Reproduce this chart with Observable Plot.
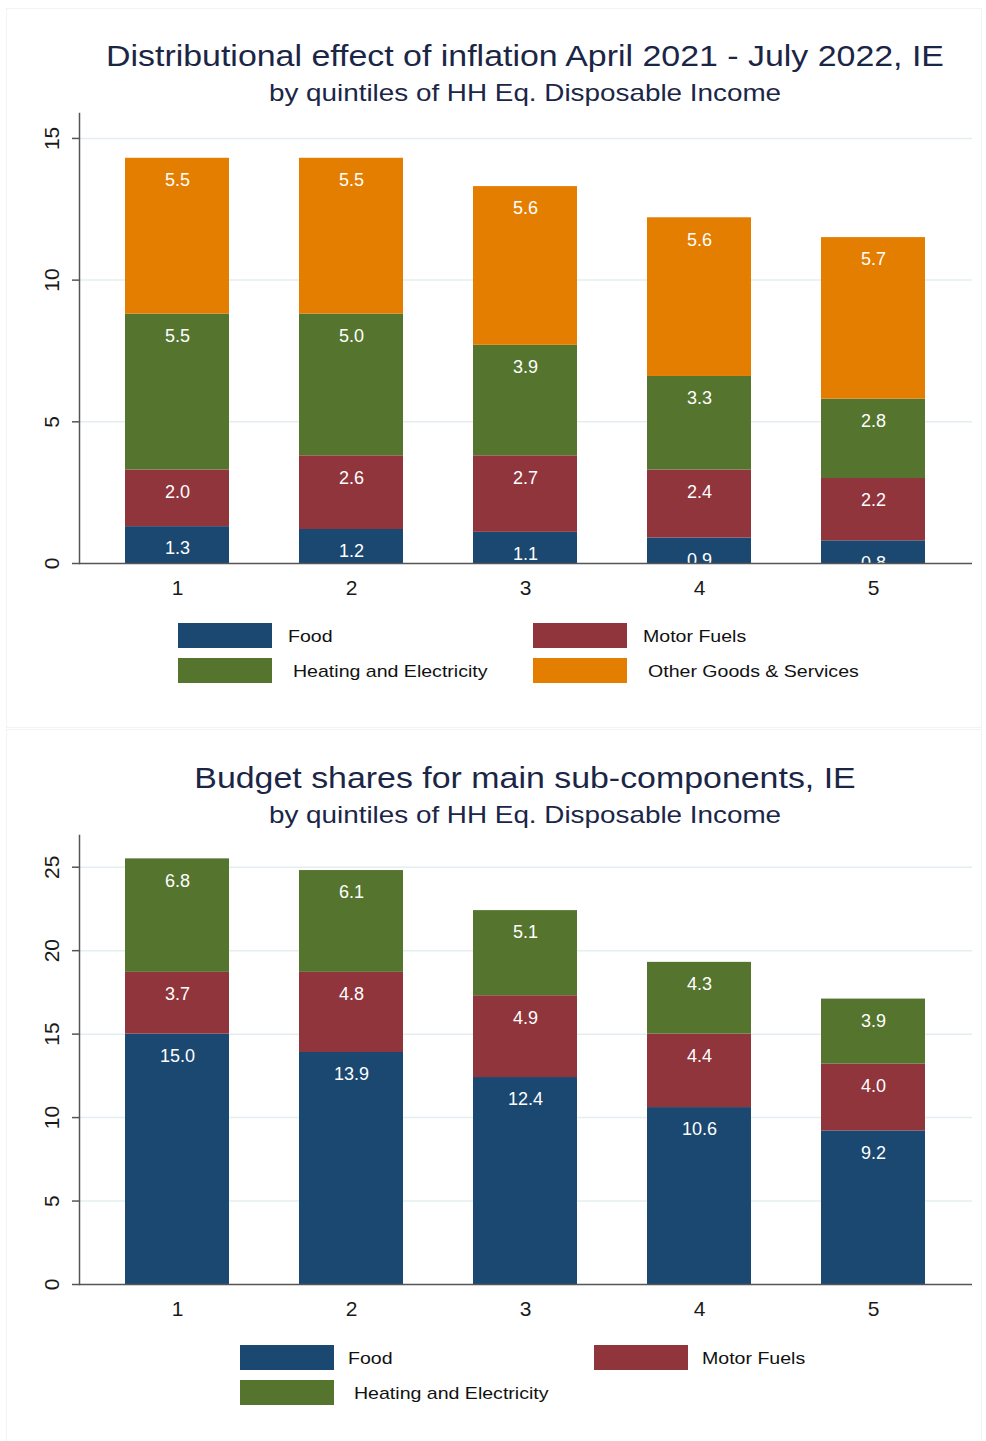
<!DOCTYPE html>
<html>
<head>
<meta charset="utf-8">
<script src="https://cdn.jsdelivr.net/npm/d3@7"></script>
<script src="https://cdn.jsdelivr.net/npm/@observablehq/plot@0.6"></script>
<style>
  html, body { margin: 0; padding: 0; background: #fff; }
  #page { position: relative; width: 986px; height: 1441px; background: #fff; overflow: hidden;
          font-family: "Liberation Sans", Arial, sans-serif; }
  .panel { position: absolute; border: 1px solid #f2f4f4; background: #fff; }
  .title, .sub { position: absolute; white-space: nowrap; line-height: 1; color: #1b2647;
                 transform: translate(-50%, -50%) scaleX(1.13); }
  .title { font-size: 30px; }
  .sub { font-size: 24px; transform: translate(-50%, -50%) scaleX(1.16); }
  .sw { position: absolute; width: 94px; height: 25px; }
  .lt { position: absolute; white-space: nowrap; font-size: 17px; line-height: 1; color: #111;
        transform-origin: left center; transform: translateY(-50%) scaleX(1.15); }
  .chart { position: absolute; left: 0; }
</style>
</head>
<body>
<div id="page"></div>
<script>
// ---------- data ----------
const quintiles = ["1", "2", "3", "4", "5"];

const effectSeries = ["Food", "Motor Fuels", "Heating and Electricity", "Other Goods & Services"];
const effectFood    = [1.3, 1.2, 1.1, 0.9, 0.8];
const effectMotor   = [2.0, 2.6, 2.7, 2.4, 2.2];
const effectHeating = [5.5, 5.0, 3.9, 3.3, 2.8];
const effectOther   = [5.5, 5.5, 5.6, 5.6, 5.7];

const shareSeries  = ["Food", "Motor Fuels", "Heating and Electricity"];
const shareFood    = [15.0, 13.9, 12.4, 10.6, 9.2];
const shareMotor   = [3.7, 4.8, 4.9, 4.4, 4.0];
const shareHeating = [6.8, 6.1, 5.1, 4.3, 3.9];

const seriesColors = ["#1b4870", "#90353b", "#55752f", "#e37e00"];

const effectTicks = [0, 5, 10, 15];
const shareTicks  = [0, 5, 10, 15, 20, 25];

const title1 = "Distributional effect of inflation April 2021 - July 2022, IE";
const title2 = "Budget shares for main sub-components, IE";
const subtitle = "by quintiles of HH Eq. Disposable Income";

// ---------- helpers ----------
function toRows(series, valueArrays) {
  const rows = [];
  series.forEach((s, i) => quintiles.forEach((q, j) => rows.push({q, s, v: valueArrays[i][j]})));
  return rows;
}

function makeChart(rows, series, yMax, yTicks, height, marginTop, marginBottom) {
  return Plot.plot({
    width: 986, height, marginLeft: 79, marginRight: 14, marginTop, marginBottom,
    style: {fontFamily: '"Liberation Sans", Arial, sans-serif', background: "transparent", overflow: "visible"},
    x: {domain: quintiles, paddingInner: 0.4, paddingOuter: 0.264, axis: null},
    y: {domain: [0, yMax], axis: null},
    color: {domain: series, range: seriesColors.slice(0, series.length)},
    marks: [
      Plot.ruleY(yTicks.filter(d => d > 0), {y: d => d, stroke: "#e4eef1", strokeWidth: 1.5}),
      Plot.barY(rows, {x: "q", y: "v", fill: "s", order: series}),
      Plot.text(rows, Plot.stackY2({x: "q", y: "v", z: "s", order: series,
        text: d => d.v.toFixed(1), fill: "white", dy: 22, fontSize: 18, clip: true})),
      Plot.frame({anchor: "left", stroke: "#555", strokeWidth: 1.5}),
      Plot.ruleY([0], {stroke: "#555", strokeWidth: 1.5}),
      Plot.axisY({ticks: yTicks, tickSize: 7, fill: "none", stroke: "#555", strokeWidth: 1.5, label: null}),
      Plot.text(yTicks, {y: d => d, text: d => String(d), frameAnchor: "left", dx: -27,
        rotate: -90, textAnchor: "middle", lineAnchor: "middle", fontSize: 21, fill: "#1a1a1a"}),
      Plot.text(quintiles, {x: d => d, text: d => d, frameAnchor: "bottom", dy: 25,
        textAnchor: "middle", lineAnchor: "middle", fontSize: 21, fill: "#1a1a1a"})
    ]
  });
}

function addDiv(cls, text, style) {
  const el = document.createElement("div");
  el.className = cls;
  if (text != null) el.textContent = text;
  Object.assign(el.style, style);
  page.appendChild(el);
  return el;
}

function addLegend(series, colLefts, rowTops, textOffsets) {
  series.forEach((s, i) => {
    const col = i % 2, row = Math.floor(i / 2);
    const left = colLefts[col], top = rowTops[row];
    addDiv("sw", null, {left: left + "px", top: top + "px", background: seriesColors[i]});
    addDiv("lt", s, {left: (left + textOffsets[row]) + "px", top: (top + 13) + "px"});
  });
}

const page = document.getElementById("page");
addDiv("panel", null, {left: "6px", top: "8px", width: "974px", height: "718px"});
addDiv("panel", null, {left: "6px", top: "729px", width: "974px", height: "712px"});

// ---------- chart 1 ----------
addDiv("title", title1, {left: "525px", top: "56px"});
addDiv("sub", subtitle, {left: "525px", top: "93px"});
const c1 = makeChart(toRows(effectSeries, [effectFood, effectMotor, effectHeating, effectOther]),
  effectSeries, 15.88, effectTicks, 495, 8, 37);
const w1 = addDiv("chart", null, {top: "105px"});
w1.appendChild(c1);
addLegend(effectSeries, [178, 533], [623, 658], [110, 115]);

// ---------- chart 2 ----------
addDiv("title", title2, {left: "525px", top: "778px"});
addDiv("sub", subtitle, {left: "525px", top: "815px"});
const c2 = makeChart(toRows(shareSeries, [shareFood, shareMotor, shareHeating]),
  shareSeries, 26.9, shareTicks, 495, 10, 36);
const w2 = addDiv("chart", null, {top: "825px"});
w2.appendChild(c2);
addLegend(shareSeries, [240, 594], [1345, 1380], [108, 114]);
</script>
</body>
</html>
